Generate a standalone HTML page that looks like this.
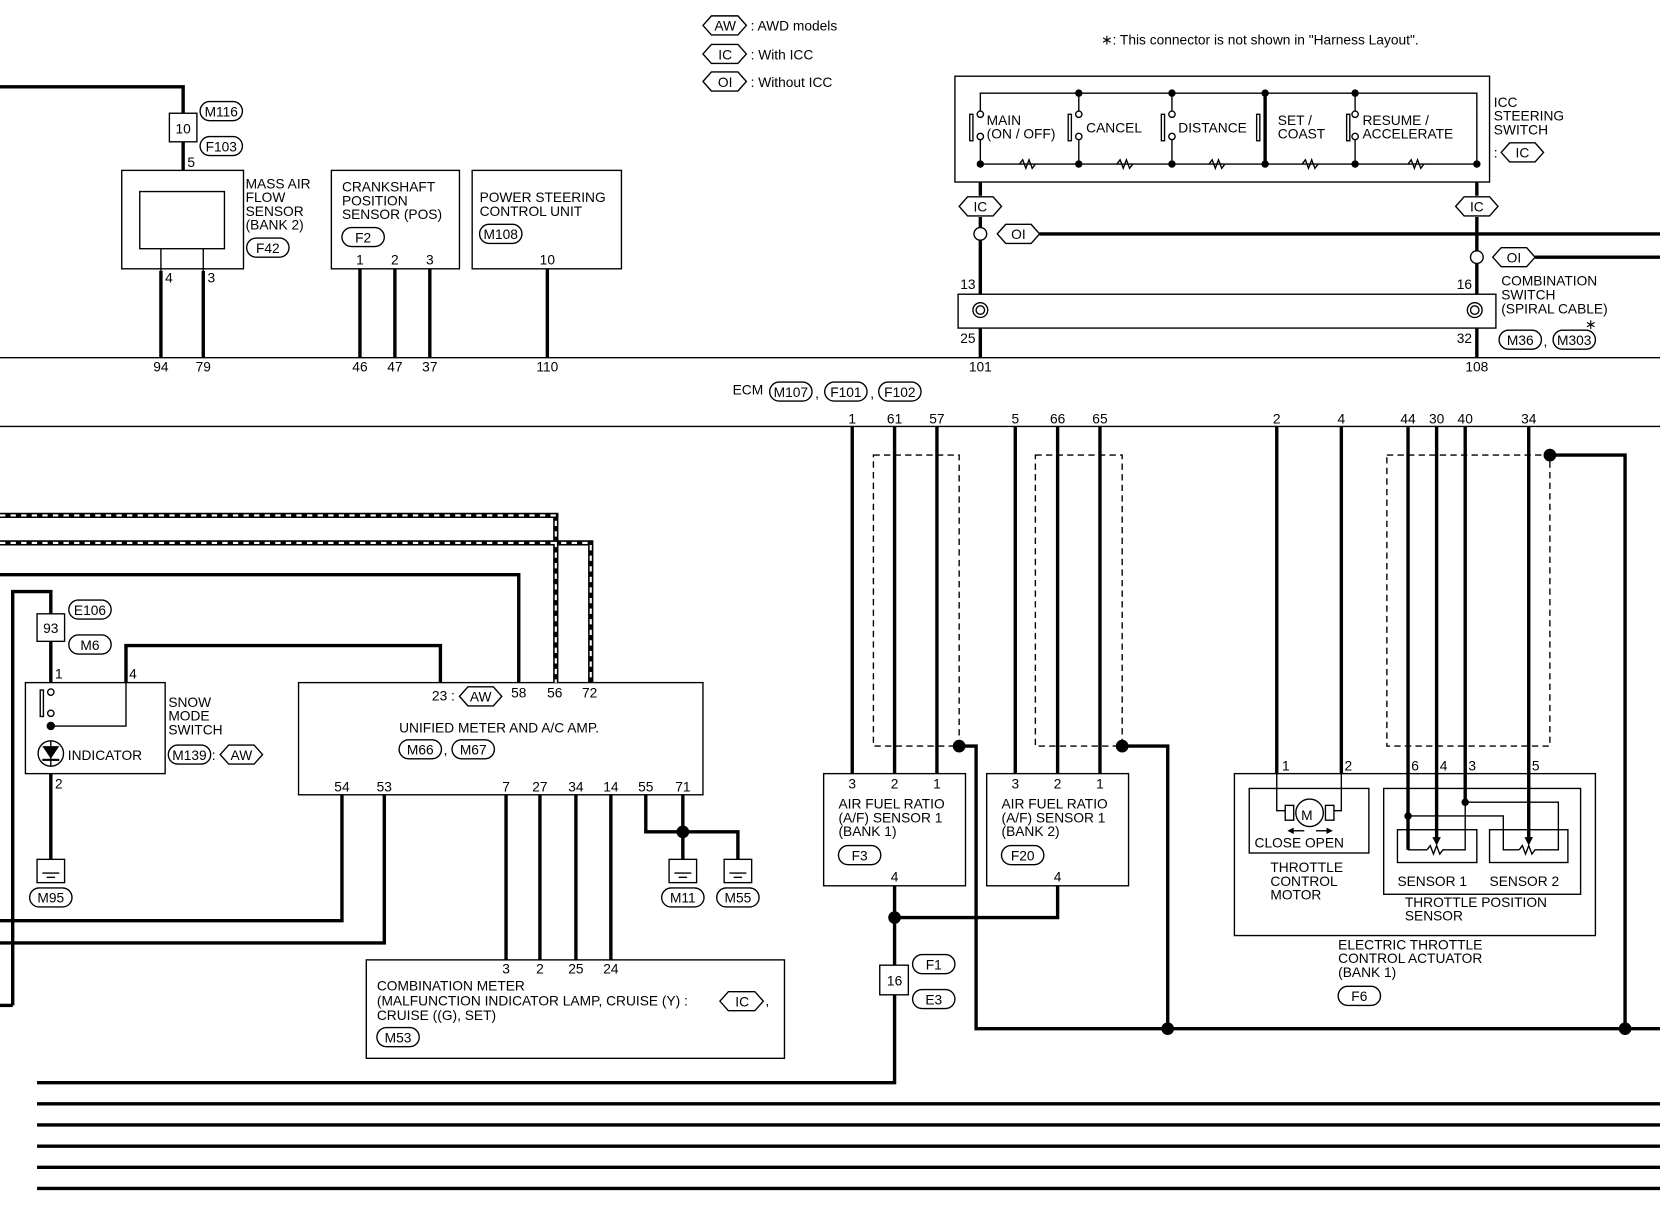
<!DOCTYPE html>
<html><head><meta charset="utf-8"><style>
html,body{margin:0;padding:0;background:#fff}
svg{display:block}
text{font-family:"Liberation Sans",sans-serif;font-size:13px;fill:#000}
</style></head><body>
<svg width="1660" height="1216" viewBox="0 0 1568 1149" preserveAspectRatio="none" xmlns="http://www.w3.org/2000/svg">
<g fill="none" stroke="#000" stroke-width="1.3">
<line x1="0" y1="338" x2="1568" y2="338"/>
<line x1="0" y1="403" x2="1568" y2="403"/>
<rect x="115" y="161" width="115" height="93"/>
<rect x="132" y="181" width="80" height="54"/>
<rect x="160" y="107" width="26" height="27"/>
<line x1="152" y1="235" x2="152" y2="256"/><line x1="192" y1="235" x2="192" y2="256"/>
<rect x="313" y="161" width="121" height="93"/>
<rect x="446" y="161" width="141" height="93"/>
<rect x="902" y="72" width="505" height="100"/>
<polyline points="926,105 926,88 1395,88 1395,155"/>
<line x1="926" y1="155" x2="1395" y2="155"/>
<line x1="1019" y1="88" x2="1019" y2="105"/><line x1="1019" y1="132" x2="1019" y2="155"/>
<line x1="1107" y1="88" x2="1107" y2="105"/><line x1="1107" y1="132" x2="1107" y2="155"/>
<line x1="1280" y1="88" x2="1280" y2="105"/><line x1="1280" y1="132" x2="1280" y2="155"/>
<line x1="926" y1="132" x2="926" y2="155"/>
<rect x="905" y="278" width="508" height="32"/>
<rect x="831" y="912" width="27" height="28"/>
<rect x="825" y="430" width="81" height="275" stroke-dasharray="6,4"/>
<rect x="978" y="430" width="82" height="275" stroke-dasharray="6,4"/>
<rect x="1310" y="430" width="154" height="275" stroke-dasharray="6,4"/>
<rect x="778" y="731" width="134" height="106"/>
<rect x="932" y="731" width="134" height="106"/>
<rect x="1166" y="731" width="341" height="153"/>
<rect x="1180" y="745" width="113" height="61"/>
<rect x="1307" y="745" width="186" height="100"/>
<rect x="1320" y="784" width="75" height="31"/>
<rect x="1407" y="784" width="74" height="31"/>
<polyline points="1206,731 1206,766 1214,766"/>
<polyline points="1267,731 1267,766 1259,766"/>
<polyline points="1384,758 1472,758 1472,803 1453,803"/>
<polyline points="1330,771 1420,771 1420,803 1435,803"/>
<polyline points="1366,803 1384,803 1384,758"/>
<line x1="1330" y1="803" x2="1348" y2="803"/>
<rect x="282" y="645" width="382" height="106"/>
<rect x="346" y="907" width="395" height="93"/>
<rect x="24" y="645" width="132" height="86"/>
<rect x="35" y="580" width="26" height="26"/>
<polyline points="48,686 119,686 119,645"/>
</g>
<g fill="none" stroke="#000" stroke-width="3.2">
<polyline points="0,82 173,82 173,107"/>
<line x1="173" y1="134" x2="173" y2="161"/>
<line x1="152" y1="256" x2="152" y2="338"/><line x1="192" y1="256" x2="192" y2="338"/>
<line x1="340" y1="254" x2="340" y2="338"/><line x1="373" y1="254" x2="373" y2="338"/><line x1="406" y1="254" x2="406" y2="338"/>
<line x1="517" y1="254" x2="517" y2="338"/>
<line x1="926" y1="172" x2="926" y2="185"/><line x1="926" y1="205" x2="926" y2="278"/>
<line x1="926" y1="310" x2="926" y2="338"/>
<line x1="1395" y1="172" x2="1395" y2="185"/><line x1="1395" y1="205" x2="1395" y2="278"/>
<line x1="1395" y1="310" x2="1395" y2="338"/>
<line x1="982" y1="221" x2="1568" y2="221"/>
<line x1="1450" y1="243" x2="1568" y2="243"/>
<line x1="1195" y1="88" x2="1195" y2="155"/>
<line x1="805" y1="403" x2="805" y2="731"/><line x1="845" y1="403" x2="845" y2="731"/><line x1="885" y1="403" x2="885" y2="731"/>
<line x1="959" y1="403" x2="959" y2="731"/><line x1="999" y1="403" x2="999" y2="731"/><line x1="1039" y1="403" x2="1039" y2="731"/>
<line x1="1206" y1="403" x2="1206" y2="731"/><line x1="1267" y1="403" x2="1267" y2="731"/>
<line x1="1330" y1="403" x2="1330" y2="803"/>
<line x1="1357" y1="403" x2="1357" y2="792"/>
<line x1="1384" y1="403" x2="1384" y2="758"/>
<line x1="1444" y1="403" x2="1444" y2="792"/>
<polyline points="906,705 922,705 922,972 1568,972"/>
<polyline points="1060,705 1103,705 1103,972"/>
<polyline points="1464,430 1535,430 1535,972"/>
<polyline points="845,837 845,912"/>
<polyline points="999,837 999,867 845,867"/>
<polyline points="845,940 845,1023 35,1023"/>
<line x1="35" y1="1043" x2="1568" y2="1043"/><line x1="35" y1="1063" x2="1568" y2="1063"/><line x1="35" y1="1083" x2="1568" y2="1083"/><line x1="35" y1="1103" x2="1568" y2="1103"/><line x1="35" y1="1123" x2="1568" y2="1123"/>
<polyline points="0,543 490,543 490,645"/>
<polyline points="12,950 12,559 48,559 48,580"/>
<line x1="0" y1="950" x2="12" y2="950"/>
<line x1="48" y1="606" x2="48" y2="645"/>
<polyline points="119,645 119,610 416,610 416,645"/>
<line x1="48" y1="731" x2="48" y2="812"/>
<polyline points="323,751 323,870 0,870"/>
<polyline points="363,751 363,891 0,891"/>
<line x1="478" y1="751" x2="478" y2="907"/><line x1="510" y1="751" x2="510" y2="907"/><line x1="544" y1="751" x2="544" y2="907"/><line x1="577" y1="751" x2="577" y2="907"/>
<polyline points="610,751 610,786 697,786 697,812"/>
<line x1="645" y1="751" x2="645" y2="812"/>
</g>
<g fill="none" stroke="#000" stroke-width="5">
<polyline points="0,487 525,487 525,645"/>
<polyline points="0,513 558,513 558,645"/>
</g>
<g fill="none" stroke="#fff" stroke-width="2" stroke-dasharray="5,5">
<polyline points="0,487 525,487 525,645"/>
<polyline points="0,513 558,513 558,645"/>
</g>
<g fill="#000">
<circle cx="1019" cy="88" r="3.5"/><circle cx="1107" cy="88" r="3.5"/><circle cx="1195" cy="88" r="3.5"/><circle cx="1280" cy="88" r="3.5"/>
<circle cx="926" cy="155" r="3.5"/><circle cx="1019" cy="155" r="3.5"/><circle cx="1107" cy="155" r="3.5"/><circle cx="1195" cy="155" r="3.5"/><circle cx="1280" cy="155" r="3.5"/><circle cx="1395" cy="155" r="3.5"/>
<circle cx="906" cy="705" r="6"/><circle cx="1060" cy="705" r="6"/><circle cx="1464" cy="430" r="6"/>
<circle cx="1103" cy="972" r="6"/><circle cx="1535" cy="972" r="6"/><circle cx="845" cy="867" r="6"/><circle cx="645" cy="786" r="6"/>
<circle cx="1330" cy="771" r="3.5"/><circle cx="1384" cy="758" r="3.5"/><circle cx="48" cy="686" r="4"/>
</g>
<g fill="#fff" stroke="#000" stroke-width="1.3">
<rect x="916" y="108" width="3" height="25"/><circle cx="926" cy="108" r="3"/><circle cx="926" cy="129" r="3"/>
<rect x="1009" y="108" width="3" height="25"/><circle cx="1019" cy="108" r="3"/><circle cx="1019" cy="129" r="3"/>
<rect x="1097" y="108" width="3" height="25"/><circle cx="1107" cy="108" r="3"/><circle cx="1107" cy="129" r="3"/>
<rect x="1272" y="108" width="3" height="25"/><circle cx="1280" cy="108" r="3"/><circle cx="1280" cy="129" r="3"/>
<rect x="1187" y="108" width="3" height="25"/>
<rect x="38" y="652" width="3" height="25"/><circle cx="48" cy="654" r="3"/><circle cx="48" cy="674" r="3"/>
<circle cx="926" cy="221" r="6"/><circle cx="1395" cy="243" r="6"/>
<circle cx="926" cy="293" r="7"/><circle cx="926" cy="293" r="4"/>
<circle cx="1393" cy="293" r="7"/><circle cx="1393" cy="293" r="4"/>
<circle cx="48" cy="712" r="12"/>
<circle cx="1237" cy="768" r="13"/>
<rect x="1214" y="761" width="8" height="14"/><rect x="1252" y="761" width="8" height="14"/>
</g>
<g fill="none" stroke="#000" stroke-width="1.3">
<path d="M963,155 l3,-4 3,8 3,-8 3,8 3,-4"/><path d="M1055,155 l3,-4 3,8 3,-8 3,8 3,-4"/>
<path d="M1142,155 l3,-4 3,8 3,-8 3,8 3,-4"/><path d="M1230,155 l3,-4 3,8 3,-8 3,8 3,-4"/><path d="M1330,155 l3,-4 3,8 3,-8 3,8 3,-4"/>
<path d="M1348,803 l3,-4 3,8 3,-8 3,8 3,-4 h3"/><path d="M1435,803 l3,-4 3,8 3,-8 3,8 3,-4 h3"/>
<line x1="48" y1="700" x2="48" y2="724"/>
<rect x="35" y="812" width="26" height="22"/><line x1="40" y1="825" x2="56" y2="825"/><line x1="44" y1="829" x2="52" y2="829"/>
<rect x="632" y="812" width="26" height="22"/><line x1="637" y1="825" x2="653" y2="825"/><line x1="641" y1="829" x2="649" y2="829"/>
<rect x="684" y="812" width="26" height="22"/><line x1="689" y1="825" x2="705" y2="825"/><line x1="693" y1="829" x2="701" y2="829"/>
<line x1="1220" y1="785" x2="1232" y2="785"/><line x1="1243" y1="785" x2="1255" y2="785"/>
</g>
<g fill="#000"><path d="M40,705 h16 l-8,12z"/><rect x="40" y="717" width="16" height="2"/>
<path d="M1357,799 l-4,-8 h8z"/><path d="M1444,799 l-4,-8 h8z"/>
<path d="M1216,785 l6,-3 v6z"/><path d="M1259,785 l-6,-3 v6z"/></g>
<text x="1229" y="775" font-size="19">M</text>
<g fill="none" stroke="#000" stroke-width="1.3">
<rect x="189" y="96" width="40" height="18" rx="9"/><rect x="189" y="129" width="40" height="18" rx="9"/>
<rect x="233" y="225" width="40" height="18" rx="9"/><rect x="323" y="215" width="40" height="18" rx="9"/>
<rect x="453" y="212" width="40" height="18" rx="9"/>
<rect x="727" y="361" width="40" height="18" rx="9"/><rect x="779" y="361" width="40" height="18" rx="9"/><rect x="830" y="361" width="40" height="18" rx="9"/>
<rect x="1416" y="312" width="40" height="18" rx="9"/><rect x="1467" y="312" width="40" height="18" rx="9"/>
<rect x="65" y="567" width="40" height="18" rx="9"/><rect x="65" y="600" width="40" height="18" rx="9"/>
<rect x="159" y="704" width="40" height="18" rx="9"/><rect x="28" y="839" width="40" height="18" rx="9"/>
<rect x="377" y="699" width="40" height="18" rx="9"/><rect x="427" y="699" width="40" height="18" rx="9"/>
<rect x="625" y="839" width="40" height="18" rx="9"/><rect x="677" y="839" width="40" height="18" rx="9"/>
<rect x="356" y="971" width="40" height="18" rx="9"/>
<rect x="792" y="799" width="40" height="18" rx="9"/><rect x="946" y="799" width="40" height="18" rx="9"/>
<rect x="862" y="902" width="40" height="18" rx="9"/><rect x="862" y="935" width="40" height="18" rx="9"/>
<rect x="1264" y="932" width="40" height="18" rx="9"/>
<polygon points="664,24 672,15 697,15 705,24 697,33 672,33"/>
<polygon points="664,51 672,42 697,42 705,51 697,60 672,60"/>
<polygon points="664,77 672,68 697,68 705,77 697,86 672,86"/>
<polygon points="906,195 914,186 938,186 946,195 938,204 914,204"/>
<polygon points="1375,195 1383,186 1407,186 1415,195 1407,204 1383,204"/>
<polygon points="942,221 950,212 974,212 982,221 974,230 950,230"/>
<polygon points="1410,243 1418,234 1442,234 1450,243 1442,252 1418,252"/>
<polygon points="1418,144 1426,135 1450,135 1458,144 1450,153 1426,153"/>
<polygon points="434,658 442,649 466,649 474,658 466,667 442,667"/>
<polygon points="208,713 216,704 240,704 248,713 240,722 216,722"/>
<polygon points="680,946 688,937 713,937 721,946 713,955 688,955"/>
</g>
<g text-anchor="middle">
<text x="209" y="110">M116</text><text x="209" y="143">F103</text><text x="253" y="239">F42</text><text x="343" y="229">F2</text><text x="473" y="226">M108</text>
<text x="747" y="375">M107</text><text x="799" y="375">F101</text><text x="850" y="375">F102</text>
<text x="1436" y="326">M36</text><text x="1487" y="326">M303</text>
<text x="85" y="581">E106</text><text x="85" y="614">M6</text><text x="179" y="718">M139</text><text x="48" y="853">M95</text>
<text x="397" y="713">M66</text><text x="447" y="713">M67</text><text x="645" y="853">M11</text><text x="697" y="853">M55</text>
<text x="376" y="985">M53</text><text x="812" y="813">F3</text><text x="966" y="813">F20</text><text x="882" y="916">F1</text><text x="882" y="949">E3</text><text x="1284" y="946">F6</text>
<text x="685" y="29">AW</text><text x="685" y="56">IC</text><text x="685" y="82">OI</text>
<text x="926" y="200">IC</text><text x="1395" y="200">IC</text><text x="962" y="226">OI</text><text x="1430" y="248">OI</text><text x="1438" y="149">IC</text>
<text x="454" y="663">AW</text><text x="228" y="718">AW</text><text x="701" y="951">IC</text>
<text x="173" y="126">10</text><text x="48" y="598">93</text><text x="845" y="931">16</text>
<text x="152" y="351">94</text><text x="192" y="351">79</text><text x="340" y="351">46</text><text x="373" y="351">47</text><text x="406" y="351">37</text><text x="517" y="351">110</text>
<text x="926" y="351">101</text><text x="1395" y="351">108</text>
<text x="340" y="250">1</text><text x="373" y="250">2</text><text x="406" y="250">3</text><text x="517" y="250">10</text>
<text x="805" y="400">1</text><text x="845" y="400">61</text><text x="885" y="400">57</text><text x="959" y="400">5</text><text x="999" y="400">66</text><text x="1039" y="400">65</text>
<text x="1206" y="400">2</text><text x="1267" y="400">4</text><text x="1330" y="400">44</text><text x="1357" y="400">30</text><text x="1384" y="400">40</text><text x="1444" y="400">34</text>
<text x="805" y="745">3</text><text x="845" y="745">2</text><text x="885" y="745">1</text><text x="959" y="745">3</text><text x="999" y="745">2</text><text x="1039" y="745">1</text>
<text x="845" y="833">4</text><text x="999" y="833">4</text>
<text x="323" y="748">54</text><text x="363" y="748">53</text><text x="478" y="748">7</text><text x="510" y="748">27</text><text x="544" y="748">34</text><text x="577" y="748">14</text><text x="610" y="748">55</text><text x="645" y="748">71</text>
<text x="490" y="659">58</text><text x="524" y="659">56</text><text x="557" y="659">72</text>
<text x="478" y="920">3</text><text x="510" y="920">2</text><text x="544" y="920">25</text><text x="577" y="920">24</text>
</g>
<text x="177" y="158">5</text><text x="156" y="267">4</text><text x="196" y="267">3</text>
<text x="907" y="273">13</text><text x="907" y="324">25</text><text x="1376" y="273">16</text><text x="1376" y="324">32</text>
<text x="52" y="641">1</text><text x="122" y="641">4</text><text x="52" y="745">2</text>
<text x="1211" y="728">1</text><text x="1270" y="728">2</text><text x="1333" y="728">6</text><text x="1360" y="728">4</text><text x="1387" y="728">3</text><text x="1447" y="728">5</text>
<text x="408" y="662">23 :</text>
<text x="709" y="29">: AWD models</text><text x="709" y="56">: With ICC</text><text x="709" y="82">: Without ICC</text>
<text x="1040" y="42">∗: This connector is not shown in "Harness Layout".</text>
<text x="232" y="178">MASS AIR</text><text x="232" y="191">FLOW</text><text x="232" y="204">SENSOR</text><text x="232" y="217">(BANK 2)</text>
<text x="323" y="181">CRANKSHAFT</text><text x="323" y="194">POSITION</text><text x="323" y="207">SENSOR (POS)</text>
<text x="453" y="191">POWER STEERING</text><text x="453" y="204">CONTROL UNIT</text>
<text x="692" y="373">ECM</text><text x="770" y="376">,</text><text x="822" y="376">,</text>
<text x="932" y="118">MAIN</text><text x="932" y="131">(ON / OFF)</text><text x="1026" y="125">CANCEL</text><text x="1113" y="125">DISTANCE</text>
<text x="1207" y="118">SET /</text><text x="1207" y="131">COAST</text><text x="1287" y="118">RESUME /</text><text x="1287" y="131">ACCELERATE</text>
<text x="1411" y="101">ICC</text><text x="1411" y="114">STEERING</text><text x="1411" y="127">SWITCH</text><text x="1411" y="149">:</text>
<text x="1418" y="270">COMBINATION</text><text x="1418" y="283">SWITCH</text><text x="1418" y="296">(SPIRAL CABLE)</text><text x="1458" y="327">,</text><text x="1497" y="311">∗</text>
<text x="159" y="668">SNOW</text><text x="159" y="681">MODE</text><text x="159" y="694">SWITCH</text><text x="200" y="718">:</text>
<text x="64" y="718">INDICATOR</text>
<text x="377" y="692">UNIFIED METER AND A/C AMP.</text><text x="419" y="713">,</text>
<text x="356" y="936">COMBINATION METER</text><text x="356" y="950">(MALFUNCTION INDICATOR LAMP, CRUISE (Y) :</text><text x="356" y="964">CRUISE ((G), SET)</text><text x="723" y="950">,</text>
<text x="792" y="764">AIR FUEL RATIO</text><text x="792" y="777">(A/F) SENSOR 1</text><text x="792" y="790">(BANK 1)</text>
<text x="946" y="764">AIR FUEL RATIO</text><text x="946" y="777">(A/F) SENSOR 1</text><text x="946" y="790">(BANK 2)</text>
<text x="1185" y="801">CLOSE OPEN</text><text x="1200" y="824">THROTTLE</text><text x="1200" y="837">CONTROL</text><text x="1200" y="850">MOTOR</text>
<text x="1320" y="837">SENSOR 1</text><text x="1407" y="837">SENSOR 2</text><text x="1327" y="857">THROTTLE POSITION</text><text x="1327" y="870">SENSOR</text>
<text x="1264" y="897">ELECTRIC THROTTLE</text><text x="1264" y="910">CONTROL ACTUATOR</text><text x="1264" y="923">(BANK 1)</text>
</svg>
</body></html>
